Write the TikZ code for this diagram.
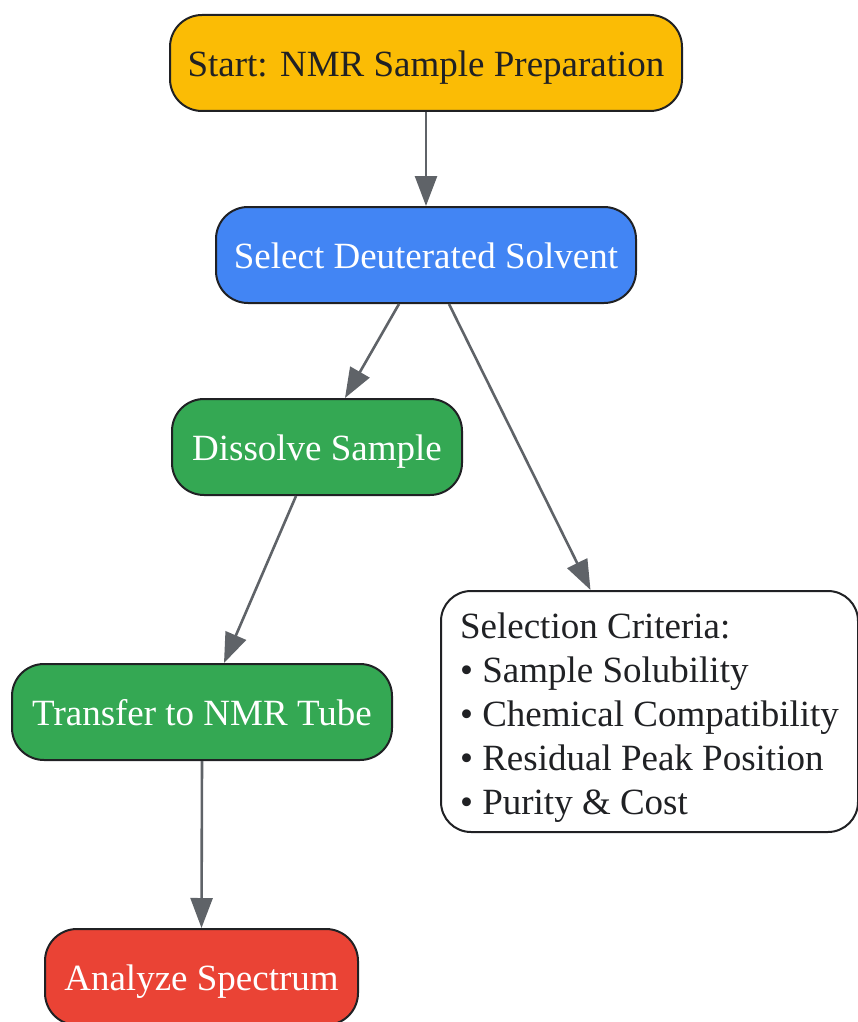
\documentclass[tikz,border=0pt]{standalone}
\usepackage{fontspec}
\setmainfont{Liberation Serif}
\usetikzlibrary{arrows.meta}
\definecolor{gyellow}{HTML}{FBBC05}
\definecolor{gblue}{HTML}{4285F4}
\definecolor{ggreen}{HTML}{34A853}
\definecolor{gred}{HTML}{EA4335}
\definecolor{gdark}{HTML}{202124}
\definecolor{ggray}{HTML}{5F6368}
\tikzset{
  stepbox/.style={draw=gdark, line width=2pt, rounded corners=32pt, minimum height=96pt,
    inner sep=0pt, font=\fontsize{37}{44}\selectfont, anchor=center,
    text height=30pt, text depth=3pt},
  conn/.style={draw=ggray, line width=2.6pt, -{Triangle[length=30pt,width=22pt]}},
}
\begin{document}
\begin{tikzpicture}[x=1pt,y=-1pt]
\useasboundingbox (0,0) rectangle (857,1022);
\node[stepbox, fill=gyellow, text=gdark, minimum width=512pt] (start) at (426,63) {Start: NMR Sample Preparation};
\node[stepbox, fill=gblue, text=white, minimum width=420pt] (select) at (426,255) {Select Deuterated Solvent};
\node[stepbox, fill=ggreen, text=white, minimum width=290pt] (dissolve) at (317,447) {Dissolve Sample};
\node[stepbox, fill=ggreen, text=white, minimum width=380pt] (transfer) at (202,712) {Transfer to NMR Tube};
\node[stepbox, fill=gred, text=white, minimum width=313pt] (analyze) at (201.5,977) {Analyze Spectrum};
\node[stepbox, fill=white, text=gdark, minimum width=417pt, minimum height=241pt, rounded corners=30pt, align=left,
  text height=, text depth=] (criteria) at (649.5,711.5)
  {\rule{0pt}{37pt}Selection Criteria:\\• Sample Solubility\\• Chemical Compatibility\\• Residual Peak Position\\• Purity \& Cost};
\draw[conn] (start.south) -- (select.north);
\draw[conn] ([xshift=-27pt]select.south) -- ([xshift=28pt]dissolve.north);
\draw[conn] ([xshift=23pt]select.south) -- ([xshift=-59pt]criteria.north);
\draw[conn] ([xshift=-21pt]dissolve.south) -- ([xshift=22pt]transfer.north);
\draw[conn] (transfer.south) -- (analyze.north);
\end{tikzpicture}
\end{document}
